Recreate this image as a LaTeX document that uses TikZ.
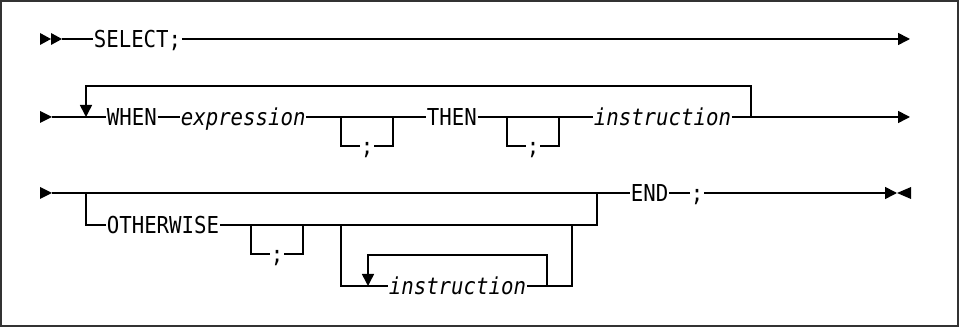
\documentclass[tikz,border=0pt]{standalone}
\usepackage{fontspec}
\newfontfamily\rrfont[FakeStretch=0.89]{DejaVu Sans Mono}
\usetikzlibrary{arrows.meta}
\begin{document}
\begin{tikzpicture}[x=1pt,y=-1pt,line width=1.6pt,
  txt/.style={font=\rrfont\fontsize{23.3}{25}\selectfont,inner sep=0pt,text height=17pt,text depth=0pt,anchor=west},
  semi/.style={txt,anchor=center},
  tip/.style={-{Triangle[length=12pt,width=12pt]}},
  frame/.style={draw=black!80,line width=2pt}]
\useasboundingbox (0,0) rectangle (961,328);
\draw[frame] (1,1) rectangle (958,326);
% ---- row 1
\coordinate (r1s) at (62,39);
\coordinate (r1e) at (910,39);
\fill (40,33) -- (51,39) -- (40,45) -- cycle;
\fill (51,33) -- (62,39) -- (51,45) -- cycle;
\node[txt] (sel) at (93,39) {SELECT;};
\draw (r1s) -- (sel.west);
\draw[tip] (sel.east) -- (r1e);
% ---- row 2
\coordinate (r2s) at (52,117);
\coordinate (r2e) at (910,117);
\coordinate (l2a) at (86,117);
\coordinate (l2b) at (86,86);
\coordinate (l2c) at (751,86);
\coordinate (l2d) at (751,117);
\fill (40,111) -- (52,117) -- (40,123) -- cycle;
\node[txt] (w) at (106,117) {WHEN};
\node[txt] (ex) at (180,117) {\itshape expression};
\node[txt] (th) at (426,117) {THEN};
\node[txt] (in2) at (593,117) {\itshape instruction};
\node[semi] (s1) at (367,146) {;};
\node[semi] (s2) at (533,146) {;};
\coordinate (b1a) at (341,117);
\coordinate (b1b) at (393,117);
\coordinate (b2a) at (507,117);
\coordinate (b2b) at (559,117);
\draw (r2s) -- (w.west);
\draw (w.east) -- (ex.west);
\draw (ex.east) -- (th.west);
\draw (th.east) -- (in2.west);
\draw[tip] (in2.east) -- (r2e);
\draw[tip] (l2d) -- (l2c) -- (l2b) -- (l2a);
\draw (b1a) |- (s1.west);
\draw (s1.east) -| (b1b);
\draw (b2a) |- (s2.west);
\draw (s2.east) -| (b2b);
% ---- row 3
\coordinate (r3s) at (52,193);
\coordinate (c3a) at (86,193);
\coordinate (c3d) at (597,193);
\coordinate (c3e) at (597,225);
\fill (40,187) -- (52,193) -- (40,199) -- cycle;
\node[txt] (en) at (630,193) {END};
\node[semi] (s4) at (697,193) {;};
\coordinate (r3e) at (897,193);
\draw (r3s) -- (en.west);
\draw (en.east) -- (s4.west);
\draw[tip] (s4.east) -- (r3e);
\fill (911,187) -- (897,193) -- (911,199) -- cycle;
\node[txt] (ow) at (106,225) {OTHERWISE};
\draw (c3a) |- (ow.west);
\draw (ow.east) -- (c3e) -- (c3d);
\node[semi] (s3) at (277,254) {;};
\coordinate (b3a) at (251,225);
\coordinate (b3b) at (303,225);
\draw (b3a) |- (s3.west);
\draw (s3.east) -| (b3b);
\node[txt] (in3) at (388,286) {\itshape instruction};
\coordinate (b4a) at (341,225);
\coordinate (b4b) at (572,225);
\draw (b4a) |- (in3.west);
\draw (in3.east) -| (b4b);
\coordinate (l3a) at (547,286);
\coordinate (l3b) at (547,255);
\coordinate (l3c) at (368,255);
\coordinate (l3d) at (368,286);
\draw[tip] (l3a) -- (l3b) -- (l3c) -- (l3d);
\end{tikzpicture}
\end{document}
